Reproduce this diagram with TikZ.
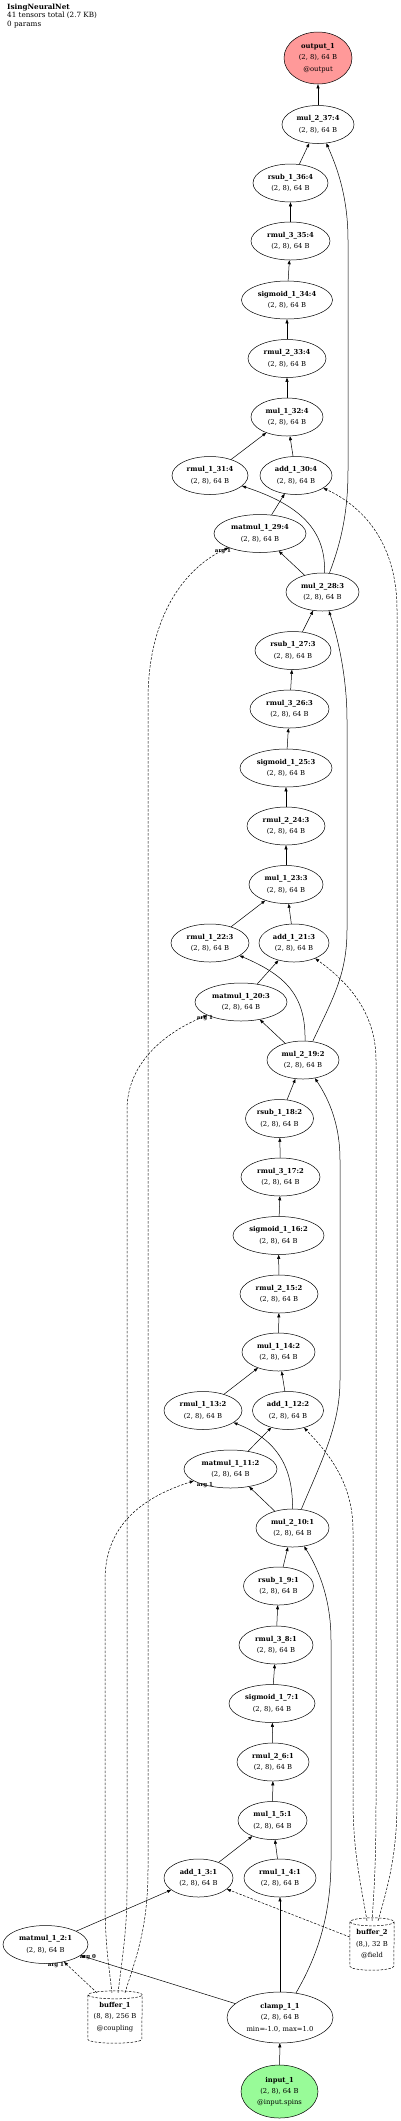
\documentclass[tikz,border=0pt]{standalone}
\usepackage{fontspec}
\setmainfont{DejaVu Serif}
\usetikzlibrary{arrows.meta,shapes.geometric}
\newcommand{\nodefont}{\fontsize{6.8}{11.4}\selectfont}
\definecolor{outred}{RGB}{255,153,153}
\definecolor{ingreen}{RGB}{152,251,152}
\begin{document}
\begin{tikzpicture}[x=1pt,y=-1pt,
  op/.style={ellipse,draw,line width=0.5pt,inner sep=0pt,minimum height=38pt,minimum width=#1,align=center,font=\nodefont},
  e/.style={line width=0.5pt,-{Triangle[length=4pt,width=3pt]}},
  dsh/.style={e,dash pattern=on 2.5pt off 1.5pt},
  cyl/.style={line width=0.5pt,dash pattern=on 2.5pt off 1.5pt},
  lab/.style={font=\fontsize{5.5}{5.5}\selectfont\bfseries,inner sep=0pt},
  buf/.style={rectangle,inner sep=0pt,minimum width=#1,minimum height=52pt,align=center,font=\nodefont}]
\useasboundingbox (0,0) rectangle (400,2121);

\node[anchor=north west,inner sep=0pt,align=left,font=\fontsize{7.2}{8.3}\selectfont] (title) at (7,4) {\textbf{IsingNeuralNet}\\41 tensors total (2.7 KB)\\0 params};

% nodes
\node[op=68pt,minimum height=52pt,fill=outred] (out) at (318,58) {\textbf{output\_1}\\(2, 8), 64 B\\@output};
\node[op=72pt] (m37) at (318,124.5) {\textbf{mul\_2\_37:4}\\(2, 8), 64 B};
\node[op=75pt] (rs36) at (290.5,183) {\textbf{rsub\_1\_36:4}\\(2, 8), 64 B};
\node[op=79pt] (r335) at (290.5,241) {\textbf{rmul\_3\_35:4}\\(2, 8), 64 B};
\node[op=91pt] (sg34) at (287,300) {\textbf{sigmoid\_1\_34:4}\\(2, 8), 64 B};
\node[op=78pt] (r233) at (287,358.5) {\textbf{rmul\_2\_33:4}\\(2, 8), 64 B};
\node[op=72pt] (m132) at (287,417) {\textbf{mul\_1\_32:4}\\(2, 8), 64 B};
\node[op=76pt] (r131) at (210,475.5) {\textbf{rmul\_1\_31:4}\\(2, 8), 64 B};
\node[op=72pt] (a30) at (296,475.5) {\textbf{add\_1\_30:4}\\(2, 8), 64 B};
\node[op=92pt] (mm29) at (260,533.5) {\textbf{matmul\_1\_29:4}\\(2, 8), 64 B};
\node[op=73pt] (m28) at (322.5,592) {\textbf{mul\_2\_28:3}\\(2, 8), 64 B};
\node[op=76pt] (rs27) at (293,650.5) {\textbf{rsub\_1\_27:3}\\(2, 8), 64 B};
\node[op=79pt] (r326) at (289.5,709) {\textbf{rmul\_3\_26:3}\\(2, 8), 64 B};
\node[op=92pt] (sg25) at (286,768) {\textbf{sigmoid\_1\_25:3}\\(2, 8), 64 B};
\node[op=78pt] (r224) at (286,826) {\textbf{rmul\_2\_24:3}\\(2, 8), 64 B};
\node[op=74pt] (m123) at (286,884.5) {\textbf{mul\_1\_23:3}\\(2, 8), 64 B};
\node[op=78pt] (r122) at (210,943) {\textbf{rmul\_1\_22:3}\\(2, 8), 64 B};
\node[op=70pt] (a21) at (294,943) {\textbf{add\_1\_21:3}\\(2, 8), 64 B};
\node[op=92pt] (mm20) at (241,1002) {\textbf{matmul\_1\_20:3}\\(2, 8), 64 B};
\node[op=72pt] (m19) at (303,1060) {\textbf{mul\_2\_19:2}\\(2, 8), 64 B};
\node[op=68pt] (rs18) at (279.5,1118.5) {\textbf{rsub\_1\_18:2}\\(2, 8), 64 B};
\node[op=79pt] (r317) at (280.5,1177) {\textbf{rmul\_3\_17:2}\\(2, 8), 64 B};
\node[op=91pt] (sg16) at (278.5,1235.5) {\textbf{sigmoid\_1\_16:2}\\(2, 8), 64 B};
\node[op=78pt] (r215) at (279,1294) {\textbf{rmul\_2\_15:2}\\(2, 8), 64 B};
\node[op=73pt] (m114) at (278.5,1352) {\textbf{mul\_1\_14:2}\\(2, 8), 64 B};
\node[op=78pt] (r113) at (203,1410.5) {\textbf{rmul\_1\_13:2}\\(2, 8), 64 B};
\node[op=71pt] (a12) at (288,1410.5) {\textbf{add\_1\_12:2}\\(2, 8), 64 B};
\node[op=93pt] (mm11) at (230.5,1469) {\textbf{matmul\_1\_11:2}\\(2, 8), 64 B};
\node[op=73pt] (m10) at (292.5,1528) {\textbf{mul\_2\_10:1}\\(2, 8), 64 B};
\node[op=70pt] (rs9) at (278.5,1586) {\textbf{rsub\_1\_9:1}\\(2, 8), 64 B};
\node[op=74pt] (r38) at (276,1645) {\textbf{rmul\_3\_8:1}\\(2, 8), 64 B};
\node[op=86pt] (sg7) at (272,1703.5) {\textbf{sigmoid\_1\_7:1}\\(2, 8), 64 B};
\node[op=72pt] (r26) at (273,1762) {\textbf{rmul\_2\_6:1}\\(2, 8), 64 B};
\node[op=69pt] (m15) at (272.5,1820.5) {\textbf{mul\_1\_5:1}\\(2, 8), 64 B};
\node[op=69pt] (a3) at (198.5,1878) {\textbf{add\_1\_3:1}\\(2, 8), 64 B};
\node[op=72pt] (r14) at (280,1878) {\textbf{rmul\_1\_4:1}\\(2, 8), 64 B};
\node[op=85pt] (mm2) at (45.5,1944.5) {\textbf{matmul\_1\_2:1}\\(2, 8), 64 B};
\node[buf=54pt] (b1) at (115,2017) {\textbf{buffer\_1}\\(8, 8), 256 B\\@coupling};
\node[buf=44pt] (b2) at (372,1944) {\textbf{buffer\_2}\\(8,), 32 B\\@field};
\node[op=106pt,minimum height=51pt] (cl) at (280,2017.5) {\textbf{clamp\_1\_1}\\(2, 8), 64 B\\min=-1.0, max=1.0};
\node[op=77pt,minimum height=53pt,fill=ingreen] (in) at (279.5,2091.5) {\textbf{input\_1}\\(2, 8), 64 B\\@input.spins};

% cylinders
\draw[cyl] ([yshift=-4pt]b1.north west) -- ([yshift=4pt]b1.south west) arc[start angle=180,end angle=360,x radius=27pt,y radius=4pt] -- ([yshift=-4pt]b1.north east) arc[start angle=0,end angle=360,x radius=27pt,y radius=4pt];
\draw[cyl] ([yshift=-4pt]b2.north west) -- ([yshift=4pt]b2.south west) arc[start angle=180,end angle=360,x radius=22pt,y radius=4pt] -- ([yshift=-4pt]b2.north east) arc[start angle=0,end angle=360,x radius=22pt,y radius=4pt];

% edges: stage 1
\draw[e] (in) -- (cl);
\draw[e] (cl) -- (mm2);
\draw[dsh] ([xshift=-18pt,yshift=-2pt]b1.north) -- (mm2);
\node[lab] (l20) at (88,1957) {arg 0};
\node[lab] (l21) at (56,1965) {arg 1};
\draw[e] (cl) -- (r14);
\draw[e] (cl.57) .. controls (318,1955) and (331,1915) .. (331,1860) -- (331,1640) .. controls (331,1595) and (316,1565) .. (m10);
\draw[e] (mm2) -- (a3);
\draw[dsh] ([yshift=7pt]b2.west) -- (a3);
\draw[e] (a3) -- (m15);
\draw[e] (r14) -- (m15);
\draw[e] (m15) -- (r26);
\draw[e] (r26) -- (sg7);
\draw[e] (sg7) -- (r38);
\draw[e] (r38) -- (rs9);
\draw[e] (rs9) -- (m10);

% stage 2
\draw[e] (m10) -- (mm11);
\draw[dsh] ([xshift=-3pt,yshift=-2pt]b1.north) .. controls (108,1960) and (105,1940) .. (105,1900) -- (105,1580) .. controls (105,1520) and (150,1495) .. (mm11);
\node[lab] (l11) at (205,1485) {arg 1};
\draw[e] (m10.north) .. controls (293,1468) and (278,1440) .. (r113);
\draw[e] (mm11) -- (a12);
\draw[dsh] ([xshift=-5pt,yshift=-3pt]b2.north) .. controls (360,1880) and (353,1850) .. (353,1800) -- (353,1530) .. controls (353,1480) and (325,1450) .. (a12);
\draw[e] ([xshift=9pt]m10.north) .. controls (322,1460) and (340,1425) .. (340,1380) -- (340,1160) .. controls (340,1120) and (326,1095) .. (m19);
\draw[e] (r113) -- (m114);
\draw[e] (a12) -- (m114);
\draw[e] (m114) -- (r215);
\draw[e] (r215) -- (sg16);
\draw[e] (sg16) -- (r317);
\draw[e] (r317) -- (rs18);
\draw[e] (rs18) -- (m19);

% stage 3
\draw[e] (m19) -- (mm20);
\draw[dsh] ([xshift=3pt,yshift=-2pt]b1.north) .. controls (122,1960) and (127,1930) .. (127,1890) -- (127,1110) .. controls (127,1060) and (170,1030) .. (mm20);
\node[lab] (l12) at (205,1018) {arg 1};
\draw[e] ([xshift=2pt]m19.north) .. controls (306,995) and (285,975) .. (r122);
\draw[e] (mm20) -- (a21);
\draw[dsh] ([yshift=-3pt]b2.north) .. controls (375,1880) and (376,1850) .. (376,1800) -- (376,1060) .. controls (376,1010) and (345,980) .. (a21);
\draw[e] ([xshift=10pt]m19.north) .. controls (332,1000) and (347,975) .. (347,930) -- (347,720) .. controls (347,675) and (337,635) .. (m28);
\draw[e] (r122) -- (m123);
\draw[e] (a21) -- (m123);
\draw[e] (m123) -- (r224);
\draw[e] (r224) -- (sg25);
\draw[e] (sg25) -- (r326);
\draw[e] (r326) -- (rs27);
\draw[e] (rs27) -- (m28);

% stage 4
\draw[e] (m28) -- (mm29);
\draw[dsh] ([xshift=10pt,yshift=-2pt]b1.north) .. controls (135,1960) and (148,1930) .. (148,1870) -- (148,700) .. controls (148,610) and (190,565) .. (mm29);
\node[lab] (l13) at (223,551) {arg 1};
\draw[e] ([xshift=2pt]m28.north) .. controls (326,530) and (300,505) .. (r131);
\draw[e] (mm29) -- (a30);
\draw[dsh] ([xshift=6pt,yshift=-3pt]b2.north) .. controls (390,1880) and (397,1850) .. (397,1800) -- (397,610) .. controls (397,540) and (360,505) .. (a30);
\draw[e] ([xshift=7pt]m28.north) .. controls (342,540) and (348,510) .. (348,470) -- (348,240) .. controls (348,195) and (336,165) .. (m37);
\draw[e] (r131) -- (m132);
\draw[e] (a30) -- (m132);
\draw[e] (m132) -- (r233);
\draw[e] (r233) -- (sg34);
\draw[e] (sg34) -- (r335);
\draw[e] (r335) -- (rs36);
\draw[e] (rs36) -- (m37);
\draw[e] (m37) -- (out);
\end{tikzpicture}
\end{document}
